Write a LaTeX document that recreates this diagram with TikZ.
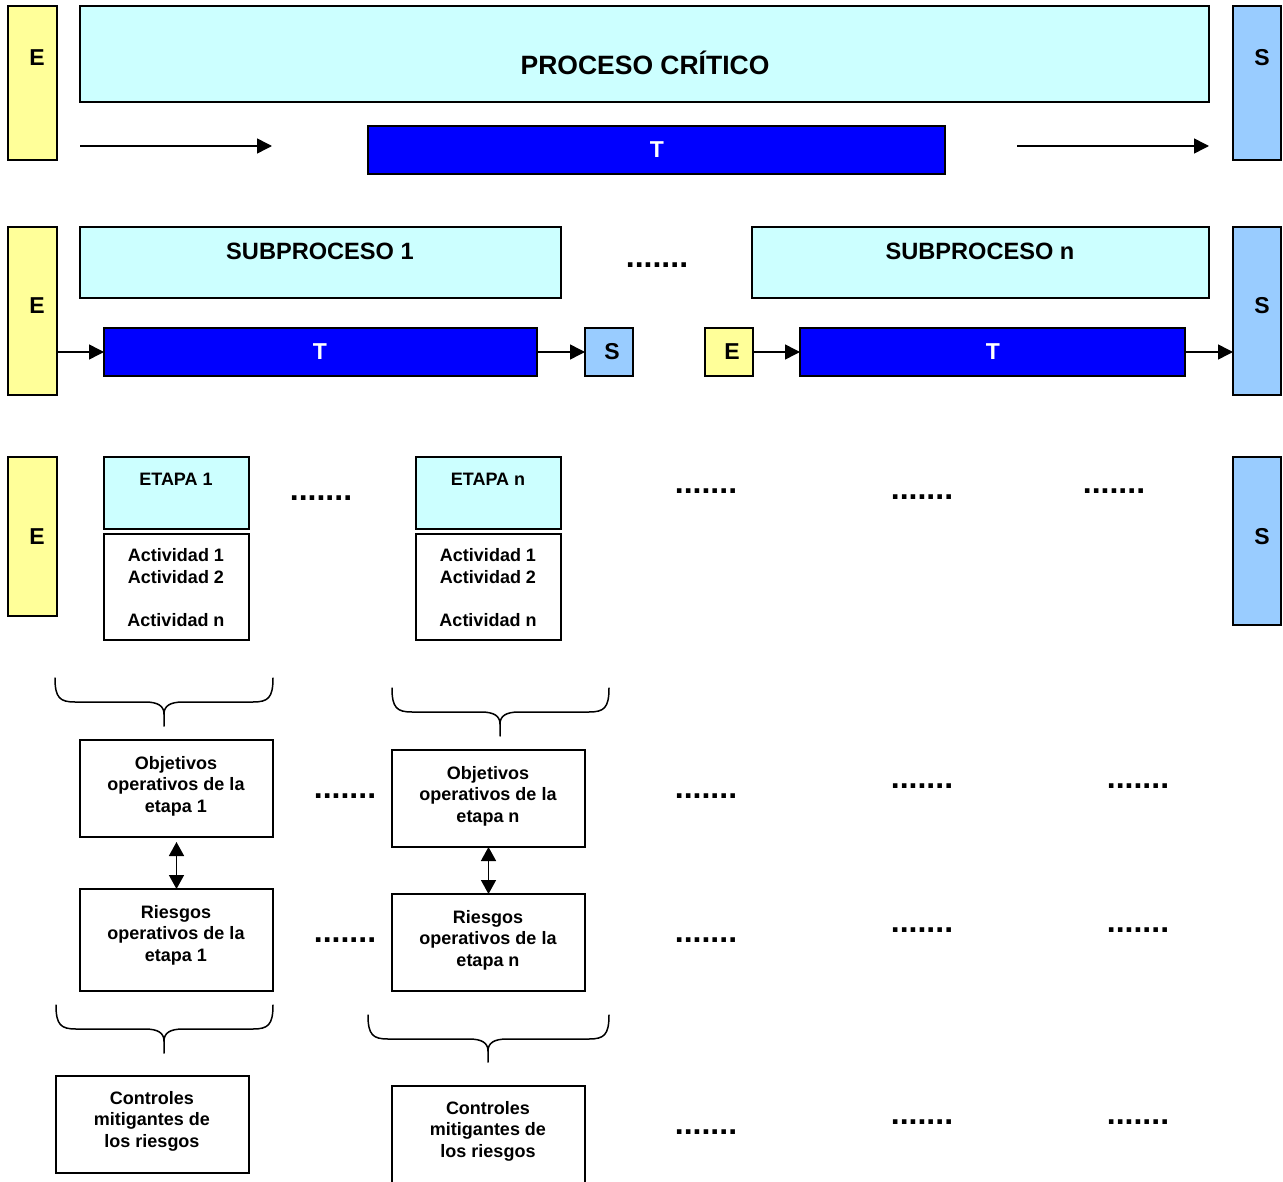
\documentclass[tikz,border=0pt]{standalone}
\usepackage{fontspec}
\setmainfont{Liberation Sans}
\usetikzlibrary{arrows.meta}
\definecolor{yel}{HTML}{FFFF99}
\definecolor{cya}{HTML}{CCFFFF}
\definecolor{lbl}{HTML}{99CCFF}
\definecolor{blu}{HTML}{0000FF}
\newcommand\mkbox[6]{\node[#1, minimum width={#4-#2}, minimum height={#5-#3}] (#6) at ({(#2+#4)/2},{(#3+#5)/2}) {};}
\newcommand\dotrow[3]{\node[dotsty] (#3) at (#1,#2) {.......};}
\newcommand\mybrace[6]{%
\draw[brc] (#1,#4) .. controls (#1,{#5-4}) and ({#1+5},#5) .. ({#1+20},#5)
  -- ({#3-19},#5) .. controls ({#3-6},#5) and (#3,{#5+4}) .. (#3,{#5+12}) -- (#3,#6);
\draw[brc] (#2,#4) .. controls (#2,{#5-4}) and ({#2-5},#5) .. ({#2-20},#5)
  -- ({#3+19},#5) .. controls ({#3+6},#5) and (#3,{#5+4}) .. (#3,{#5+12});}
\begin{document}
\begin{tikzpicture}[x=1pt,y=-1pt,
  bx/.style={draw=black, line width=1.6pt, inner sep=0pt, outer sep=0pt},
  ebox/.style={bx, fill=yel},
  sbox/.style={bx, fill=lbl},
  cbox/.style={bx, fill=cya},
  tbox/.style={bx, fill=blu},
  wbox/.style={bx, fill=white},
  txt/.style={inner sep=0pt, align=center, font=\fontsize{18}{21.5}\selectfont\bfseries},
  big/.style={inner sep=0pt, font=\fontsize{23}{27}\selectfont\bfseries},
  sub/.style={inner sep=0pt, font=\fontsize{23.6}{28}\selectfont\bfseries},
  huge/.style={inner sep=0pt, font=\fontsize{26.5}{31}\selectfont\bfseries},
  wt/.style={big, text=white},
  dotsty/.style={inner sep=0pt, anchor=base, font=\fontsize{32}{36}\selectfont\bfseries},
  arr/.style={line width=1.5pt, -{Triangle[length=15pt,width=15pt]}},
  darr/.style={line width=1.5pt, {Triangle[length=14pt,width=15pt]}-{Triangle[length=14pt,width=15pt]}},
  brc/.style={line width=1.5pt, line cap=round}
]
\useasboundingbox (0,0) rectangle (1283,1182);
\clip (0,0) rectangle (1283,1182);

% Row 1
\mkbox{ebox}{8}{6}{57}{160}{e1}
\mkbox{cbox}{80}{6}{1209}{102}{p1}
\mkbox{sbox}{1233}{6}{1281}{160}{s1}
\mkbox{tbox}{368}{126}{945}{174}{t0}
\node[big] (le1) at (37,58) {E};
\node[huge] (lp1) at (645,63) {PROCESO CRÍTICO};
\node[big] (ls1) at (1262,58) {S};
\node[wt] (lt0) at (657,150) {T};
\coordinate (a1s) at (80,146);
\coordinate (a1e) at (272,146);
\coordinate (a2s) at (1017,146);
\coordinate (a2e) at (1209,146);
\draw[arr] (a1s) -- (a1e);
\draw[arr] (a2s) -- (a2e);

% Row 2
\mkbox{ebox}{8}{227}{57}{395}{e2}
\mkbox{cbox}{80}{227}{561}{298}{sp1}
\mkbox{cbox}{752}{227}{1209}{298}{spn}
\mkbox{sbox}{1233}{227}{1281}{395}{s2}
\mkbox{tbox}{104}{328}{537}{376}{t1}
\mkbox{sbox}{585}{328}{633}{376}{s2a}
\mkbox{ebox}{705}{328}{753}{376}{e2a}
\mkbox{tbox}{800}{328}{1185}{376}{t2}
\node[big] (le2) at (37,306) {E};
\node[big] (ls2) at (1262,306) {S};
\node[sub] (lsp1) at (320,251) {SUBPROCESO 1};
\node[sub] (lspn) at (980,251) {SUBPROCESO n};
\node[wt] (lt1) at (320,352) {T};
\node[wt] (lt2) at (993,352) {T};
\node[big] (ls2a) at (612,352) {S};
\node[big] (le2a) at (732,352) {E};
\dotrow{657}{268}{d0}
\draw[arr] (e2.east |- t1.west) -- (t1.west);
\draw[arr] (t1.east) -- (s2a.west);
\draw[arr] (e2a.east) -- (t2.west);
\draw[arr] (t2.east) -- (s2.west |- t2.east);

% Row 3
\mkbox{ebox}{8}{457}{57}{616}{e3}
\mkbox{sbox}{1233}{457}{1281}{625}{s3}
\mkbox{cbox}{104}{457}{249}{529}{et1}
\mkbox{wbox}{104}{534}{249}{640}{ac1}
\mkbox{cbox}{416}{457}{561}{529}{etn}
\mkbox{wbox}{416}{534}{561}{640}{acn}
\node[big] (le3) at (37,537) {E};
\node[big] (ls3) at (1262,537) {S};
\node[txt] (let1) at (176,479) {ETAPA 1};
\node[txt] (letn) at (488,479) {ETAPA n};
\node[txt] (lac1) at (176,587.5) {Actividad 1\\Actividad 2\\[21.5pt]Actividad n};
\node[txt] (lacn) at (488,587.5) {Actividad 1\\Actividad 2\\[21.5pt]Actividad n};
\dotrow{321}{500}{d1}
\dotrow{706}{493}{d2}
\dotrow{922}{499}{d3}
\dotrow{1114}{493}{d4}

% Braces
\mybrace{55}{273}{164}{678}{702}{726}
\mybrace{392}{609}{500}{688}{712}{736}
\mybrace{56}{273}{164}{1005}{1029}{1053}
\mybrace{368}{609}{488}{1015}{1039}{1062}

% Row 4 / 5
\mkbox{wbox}{80}{740}{273}{837}{ob1}
\mkbox{wbox}{392}{750}{585}{847}{obn}
\mkbox{wbox}{80}{889}{273}{991}{ri1}
\mkbox{wbox}{392}{894}{585}{991}{rin}
\node[txt] (lob1) at (176,786) {Objetivos\\operativos de la\\etapa 1};
\node[txt] (lobn) at (488,796) {Objetivos\\operativos de la\\etapa n};
\node[txt] (lri1) at (176,935) {Riesgos\\operativos de la\\etapa 1};
\node[txt] (lrin) at (488,940) {Riesgos\\operativos de la\\etapa n};
\draw[darr, shorten <=5pt] (ob1.south) -- (ri1.north);
\draw[darr] (obn.south) -- (rin.north);
\dotrow{345}{798}{d5}
\dotrow{706}{798}{d6}
\dotrow{922}{788}{d7}
\dotrow{1138}{788}{d8}
\dotrow{345}{942}{d9}
\dotrow{706}{942}{d10}
\dotrow{922}{932}{d11}
\dotrow{1138}{932}{d12}

% Row 6
\mkbox{wbox}{56}{1076}{249}{1173}{co1}
\mkbox{wbox}{392}{1086}{585}{1200}{con}
\node[txt] (lco1) at (152,1121) {Controles\\mitigantes de\\los riesgos};
\node[txt] (lcon) at (488,1131) {Controles\\mitigantes de\\los riesgos};
\dotrow{706}{1134}{d13}
\dotrow{922}{1124}{d14}
\dotrow{1138}{1124}{d15}
\end{tikzpicture}
\end{document}
